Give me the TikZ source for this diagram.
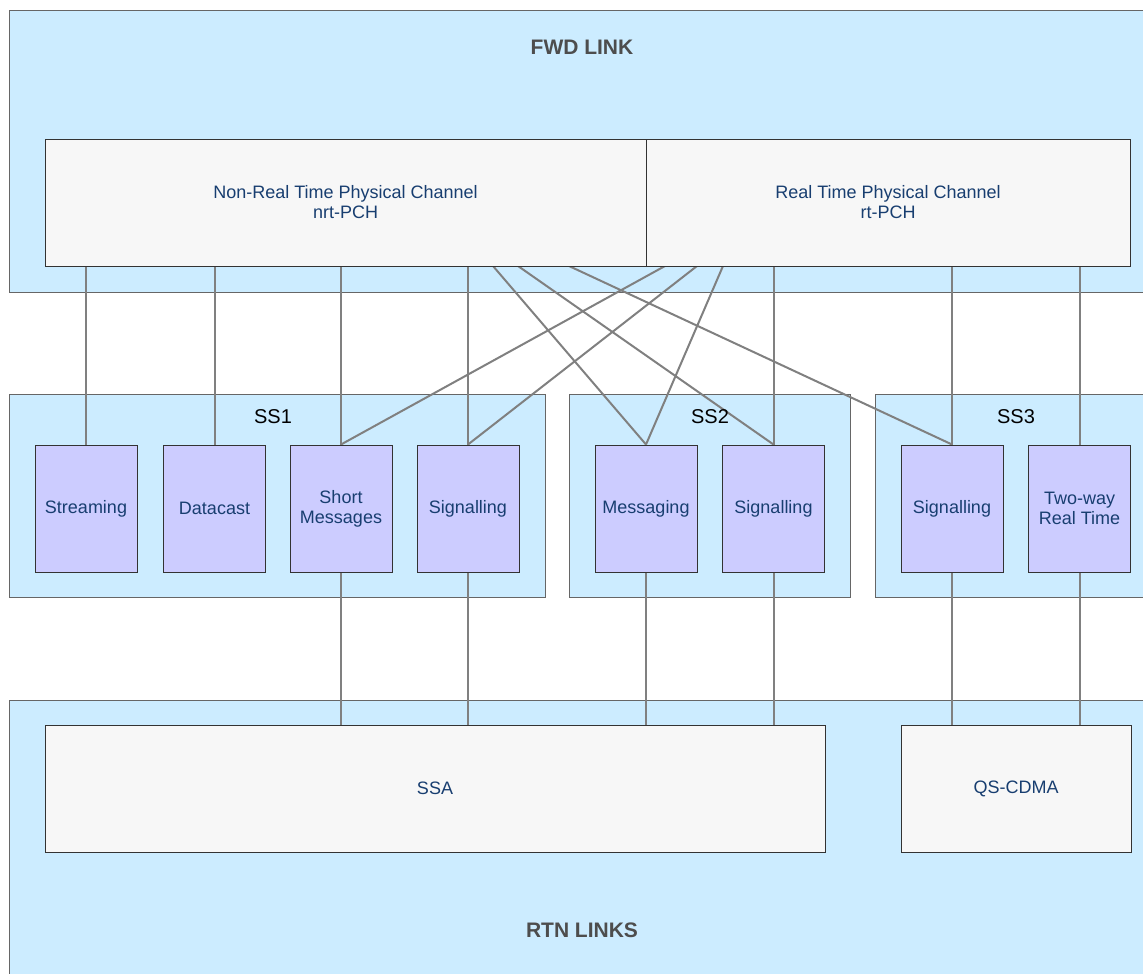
\documentclass[tikz,border=0pt]{standalone}
\usepackage{fontspec}
\setmainfont{Liberation Sans}
\pgfdeclarelayer{bg}
\pgfdeclarelayer{lines}
\pgfsetlayers{bg,lines,main}
\definecolor{lblue}{HTML}{CCECFF}
\definecolor{lpurple}{HTML}{CCCCFF}
\definecolor{lgray}{HTML}{F7F7F7}
\definecolor{txtblue}{RGB}{24,62,112}
\definecolor{titlegray}{HTML}{4D4D4D}
\definecolor{conngray}{HTML}{808080}
\definecolor{outline}{HTML}{333333}
\definecolor{outerline}{HTML}{666666}
\tikzset{
  container/.style={draw=outerline, fill=lblue, line width=1pt, rectangle, inner sep=0pt},
  greybox/.style={draw=outline, fill=lgray, line width=1pt, rectangle, inner sep=0pt, minimum height=127pt,
    text=txtblue, font=\fontsize{18}{20}\selectfont, align=center},
  svc/.style={draw=outline, fill=lpurple, line width=1pt, rectangle, inner sep=0pt, minimum width=102pt, minimum height=127pt,
    text=txtblue, font=\fontsize{18}{20}\selectfont, align=center},
  title/.style={text=titlegray, font=\fontsize{21}{24}\selectfont\bfseries, inner sep=0pt},
  sslabel/.style={text=black, font=\fontsize{20}{22}\selectfont, inner sep=0pt},
  conn/.style={draw=conngray, line width=2pt},
}
\begin{document}
\begin{tikzpicture}[x=1pt,y=-1pt]
\useasboundingbox (0,0) rectangle (1143,974);
\clip (0,0) rectangle (1143,974);
\begin{pgfonlayer}{bg}
  \node[container, minimum width=1151pt, minimum height=281pt] (fwd) at (584.5,151.5) {};
  \node[container, minimum width=536pt, minimum height=203pt] (ss1) at (277,495.5) {};
  \node[container, minimum width=281pt, minimum height=203pt] (ss2) at (709.5,495.5) {};
  \node[container, minimum width=285pt, minimum height=203pt] (ss3) at (1017.5,495.5) {};
  \node[container, minimum width=1151pt, minimum height=290pt] (rtn) at (584.5,845) {};
\end{pgfonlayer}
\node[title] (fwdtitle) at (582,47) {FWD LINK};
\node[title] (rtntitle) at (582,930) {RTN LINKS};
\node[sslabel] (ss1lab) at (273,417) {SS1};
\node[sslabel] (ss2lab) at (710,417) {SS2};
\node[sslabel] (ss3lab) at (1016,417) {SS3};

\node[greybox, minimum width=601pt] (nrt) at (345.5,202.5) {Non-Real Time Physical Channel\\nrt-PCH};
\node[greybox, minimum width=484pt] (rt) at (888,202.5) {Real Time Physical Channel\\rt-PCH};

\node[svc] (stream) at (86,508.5) {Streaming};
\node[svc] (data) at (214.5,508.5) {Datacast};
\node[svc] (sm) at (341,508.5) {Short\\Messages};
\node[svc] (sig1) at (468,508.5) {Signalling};
\node[svc] (msg) at (646,508.5) {Messaging};
\node[svc] (sig2) at (773.5,508.5) {Signalling};
\node[svc] (sig3) at (952,508.5) {Signalling};
\node[svc] (twoway) at (1079.5,508.5) {Two-way\\Real Time};

\node[greybox, minimum width=780pt] (ssa) at (435,788.5) {SSA};
\node[greybox, minimum width=230pt] (qs) at (1016,788.5) {QS-CDMA};

\coordinate (a1) at (493,266);
\coordinate (a2) at (518,266);
\coordinate (a3) at (569,266);
\coordinate (b1) at (665,266);
\coordinate (b2) at (697,266);
\coordinate (b3) at (723,266);

\begin{pgfonlayer}{lines}
  \foreach \n in {stream,data,sm,sig1} \draw[conn] (nrt.south -| \n.north) -- (\n.north);
  \foreach \n in {sig2,sig3,twoway} \draw[conn] (rt.south -| \n.north) -- (\n.north);
  \draw[conn] (a1) -- (msg.north);
  \draw[conn] (a2) -- (sig2.north);
  \draw[conn] (a3) -- (sig3.north);
  \draw[conn] (b1) -- (sm.north);
  \draw[conn] (b2) -- (sig1.north);
  \draw[conn] (b3) -- (msg.north);
  \foreach \n in {sm,sig1,msg,sig2} \draw[conn] (\n.south) -- (\n.south |- ssa.north);
  \foreach \n in {sig3,twoway} \draw[conn] (\n.south) -- (\n.south |- qs.north);
\end{pgfonlayer}
\end{tikzpicture}
\end{document}
